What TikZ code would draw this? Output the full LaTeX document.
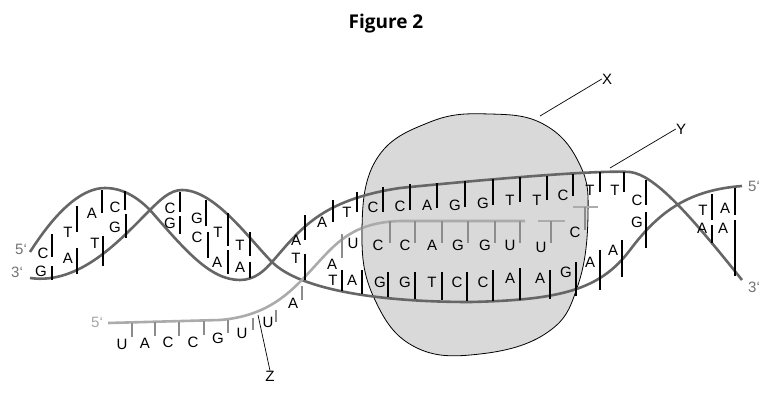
\documentclass[tikz,border=0pt]{standalone}
\usepackage{fontspec}
\setmainfont{Liberation Sans}
\newfontfamily\titlefont{Open Sans}
\begin{document}
\begin{tikzpicture}[x=1pt,y=-1pt,
  dna/.style={draw=black!60,line width=2.6pt},
  rna/.style={draw=black!33,line width=2.6pt},
  lab/.style={font=\fontsize{15}{16}\selectfont,inner sep=0pt},
  endlab/.style={font=\fontsize{15}{16}\selectfont,inner sep=0pt},
  bar/.style={draw=black,line width=1.6pt},
  rbar/.style={draw=black!45,line width=1.6pt}]
\newcommand\Bk[6]{\node[lab] at (#1,#2) {#3}; \draw[bar] (#4,#5)--(#4,#6);}
\newcommand\Br[6]{\node[lab] at (#1,#2) {#3}; \draw[rbar] (#4,#5)--(#4,#6);}
\useasboundingbox (0,0) rectangle (765,412);
\node[font=\titlefont\bfseries\fontsize{19}{21}\selectfont] (title) at (386,24) {Figure 2};
% blob
\draw[fill=black!15,line width=0.8pt] plot[smooth cycle,tension=0.7] coordinates
 {(362,235) (376,160) (430,122) (490,114) (545,125) (580,165) (588,215) (578,285) (548,332) (480,354) (415,347) (375,300)};
% DNA strands
\draw[dna] (30,252) .. controls (60,205) and (85,188) .. (105,188)
  .. controls (125,188) and (140,200) .. (150,210)
  .. controls (185,250) and (210,280) .. (240,280)
  .. controls (255,280) and (265,270) .. (272,262)
  .. controls (300,230) and (320,200) .. (400,188)
  .. controls (500,178) and (600,170) .. (630,172)
  .. controls (655,175) and (690,215) .. (742,280);
\draw[dna] (30,278) .. controls (80,285) and (120,240) .. (150,210)
  .. controls (160,200) and (170,190) .. (182,190)
  .. controls (215,190) and (250,240) .. (272,262)
  .. controls (300,290) and (380,302) .. (470,302)
  .. controls (560,300) and (600,290) .. (630,250)
  .. controls (660,210) and (690,190) .. (742,186);
% RNA strand
\draw[rna] (108,323) -- (220,320) .. controls (280,315) and (300,280) .. (330,250)
  .. controls (350,230) and (370,222) .. (400,221) -- (525,221);
\draw[rna] (538,221) -- (565,221);
\draw[rna] (573,207) -- (598,207);
% end labels
\node[endlab,text=black!55] (l5) at (21,249) {5`};
\node[endlab,text=black!55] (l3) at (17,272) {3`};
\node[endlab,text=black!55] (r5) at (754,186) {5`};
\node[endlab,text=black!55] (r3) at (754,287) {3`};
\node[endlab,text=black!35] (m5) at (97,322) {5`};
% left lobe
\Bk{43}{253}{C}{52}{234}{257}
\Bk{41}{271}{G}{52}{266}{280}
\Bk{68}{232}{T}{77}{206}{232}
\Bk{68}{258}{A}{77}{248}{274}
\Bk{92}{213}{A}{102}{190}{213}
\Bk{95}{243}{T}{103}{236}{266}
\Bk{115}{207}{C}{125}{191}{210}
\Bk{115}{227}{G}{126}{214}{238}
% second lobe
\Bk{170}{208}{C}{180}{192}{212}
\Bk{170}{223}{G}{180}{216}{234}
\Bk{197}{218}{G}{206}{200}{226}
\Bk{197}{237}{C}{208}{232}{258}
\Bk{218}{232}{T}{228}{213}{246}
\Bk{217}{262}{A}{228}{250}{274}
\Bk{240}{245}{T}{250}{232}{256}
\Bk{240}{267}{A}{250}{262}{278}
% middle
\Bk{296}{240}{A}{305}{215}{240}
\Bk{296}{258}{T}{305}{254}{280}
\Bk{322}{222}{A}{333}{200}{222}
\Bk{347}{212}{T}{357}{192}{212}
% bubble top strand
\Bk{373}{207}{C}{383}{187}{212}
\Bk{400}{206}{C}{410}{184}{210}
\Bk{427}{205}{A}{437}{183}{208}
\Bk{455}{205}{G}{465}{181}{207}
\Bk{483}{203}{G}{493}{179}{205}
\Bk{510}{200}{T}{520}{177}{202}
\Bk{537}{200}{T}{547}{176}{200}
\Bk{563}{195}{C}{573}{174}{196}
\Bk{590}{190}{T}{600}{172}{192}
\Bk{615}{190}{T}{624}{172}{192}
\Bk{637}{200}{C}{646}{180}{205}
% bubble bottom strand
\Bk{333}{280}{T}{342}{270}{291}
\Bk{352}{280}{A}{362}{270}{294}
\Bk{380}{282}{G}{388}{272}{297}
\Bk{405}{282}{G}{415}{272}{299}
\Bk{432}{282}{T}{442}{272}{300}
\Bk{457}{282}{C}{467}{272}{301}
\Bk{483}{282}{C}{493}{270}{301}
\Bk{510}{278}{A}{520}{268}{300}
\Bk{540}{278}{A}{550}{270}{299}
\Bk{566}{272}{G}{576}{262}{296}
\Bk{590}{262}{A}{600}{250}{290}
\Bk{613}{250}{A}{622}{240}{277}
\Bk{637}{222}{G}{646}{212}{248}
% right lobe
\Bk{703}{210}{T}{712}{194}{220}
\Bk{725}{208}{A}{735}{188}{215}
\Bk{702}{228}{A}{712}{225}{243}
\Bk{723}{228}{A}{735}{220}{276}
% RNA bases outside
\Br{122}{344}{U}{132}{323}{337}
\Br{145}{343}{A}{155}{322}{336}
\Br{168}{342}{C}{179}{322}{336}
\Br{193}{342}{C}{204}{321}{335}
\Br{218}{338}{G}{228}{320}{333}
\Br{242}{333}{U}{253}{318}{330}
\Br{268}{322}{U}{276}{310}{322}
\Br{293}{303}{A}{302}{286}{300}
% RNA bases in bubble
\Br{332}{264}{A}{342}{234}{258}
\Br{353}{243}{U}{362}{225}{245}
\Br{378}{245}{C}{390}{221}{243}
\Br{405}{245}{C}{415}{221}{243}
\Br{432}{245}{A}{442}{221}{243}
\Br{458}{245}{G}{468}{221}{243}
\Br{485}{245}{G}{495}{221}{243}
\Br{510}{245}{U}{520}{221}{243}
\Br{541}{247}{U}{551}{221}{243}
\Br{575}{232}{C}{585}{207}{230}
% pointer labels
\node[lab] (X) at (607,79) {X};
\node[lab] (Y) at (681,129) {Y};
\node[lab] (Z) at (270,376) {Z};
\coordinate (xa) at (540,116);
\coordinate (ya) at (610,168);
\coordinate (za) at (258,315);
\draw[line width=0.7pt] (xa) -- (X.west);
\draw[line width=0.7pt] (ya) -- (Y.west);
\draw[line width=0.7pt] (za) -- (Z.north);
\end{tikzpicture}
\end{document}
